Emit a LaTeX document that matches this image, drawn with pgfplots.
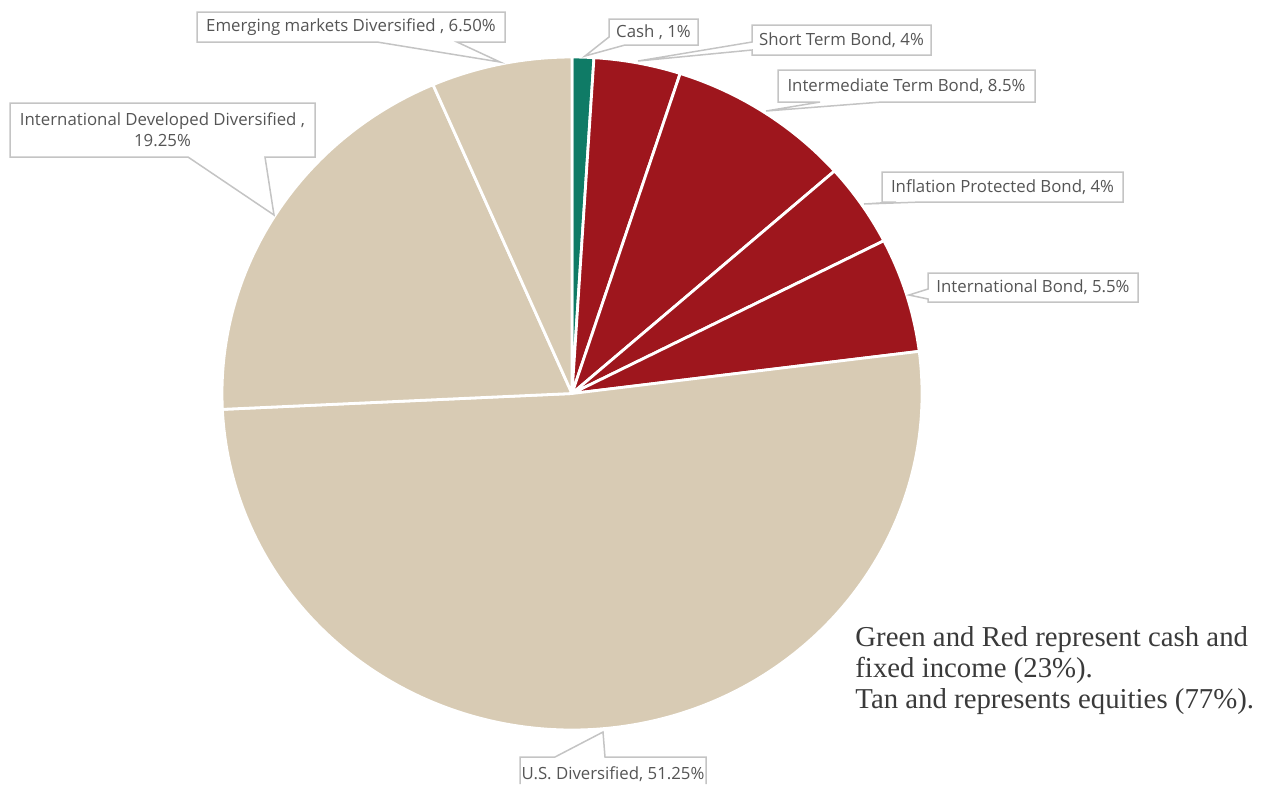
\documentclass[border=0pt]{standalone}
\usepackage{fontspec}
\setmainfont{Liberation Serif}
\newfontfamily\labelfont{Open Sans}
\usepackage{pgfplots}
\usepackage{pgfplotstable}
\pgfplotsset{compat=1.18}
\definecolor{cashgreen}{HTML}{0F7B66}
\definecolor{bondred}{HTML}{9E161D}
\definecolor{eqtan}{HTML}{D8CBB4}
\definecolor{lblgray}{HTML}{555555}
\definecolor{boxgray}{HTML}{C4C4C4}
\definecolor{notegray}{HTML}{3A3A3A}

\pgfplotstableread{
value col
1 cashgreen
4 bondred
8.5 bondred
4 bondred
5.5 bondred
51.25 eqtan
19.25 eqtan
6.5 eqtan
}\piedata

\begin{document}
\begin{tikzpicture}
\path[use as bounding box] (0,0) rectangle (635.5pt,392pt);
\begin{axis}[
  at={(0,0)}, anchor=south west,
  scale only axis, width=635.5pt, height=392pt,
  xmin=0, xmax=1271, ymin=0, ymax=784, y dir=reverse,
  hide axis, clip=false,
]
\def\cum{0}
\pgfplotstablegetrowsof{\piedata}
\pgfmathtruncatemacro\lastrow{\pgfplotsretval-1}
\pgfplotsforeachungrouped \i in {0,...,\lastrow}{%
  \pgfplotstablegetelem{\i}{value}\of\piedata \let\v=\pgfplotsretval
  \pgfplotstablegetelem{\i}{col}\of\piedata \let\c=\pgfplotsretval
  \pgfmathsetmacro\a{90-3.6*\cum}%
  \pgfmathsetmacro\b{90-3.6*(\cum+\v)}%
  \pgfmathsetmacro\cum{\cum+\v}%
  \edef\tmp{\noexpand\filldraw[fill=\c, draw=white, line width=1.4pt, line join=round]
    (axis cs:572,393.5) -- ++(\a:175pt and 168.25pt)
    arc[start angle=\a, end angle=\b, x radius=175pt, y radius=168.25pt] -- cycle;}%
  \tmp
}

\tikzset{callout/.style={draw=boxgray, fill=white, line width=0.75pt, line join=miter}}
\tikzset{lbl/.style={font=\labelfont\fontsize{8.4pt}{10.5pt}\selectfont, text=lblgray, inner sep=0pt, align=center}}

% Emerging markets
\path[callout] (axis cs:197,12) -- (axis cs:505,12) -- (axis cs:505,42) -- (axis cs:457,42) -- (axis cs:500,62) -- (axis cs:377,42) -- (axis cs:197,42) -- cycle;
\node[lbl] at (axis cs:351,27) {Emerging markets Diversified , 6.50\%};
% Cash
\path[callout] (axis cs:609,19) -- (axis cs:698,19) -- (axis cs:698,45) -- (axis cs:625,45) -- (axis cs:585,56) -- (axis cs:609,37) -- cycle;
\node[lbl] at (axis cs:653.5,32) {Cash , 1\%};
% Short Term Bond
\path[callout] (axis cs:752,25) -- (axis cs:931,25) -- (axis cs:931,55) -- (axis cs:752,55) -- (axis cs:752,50) -- (axis cs:638,61) -- (axis cs:752,42) -- cycle;
\node[lbl] at (axis cs:841.5,40) {Short Term Bond, 4\%};
% Intermediate Term Bond
\path[callout] (axis cs:778,70) -- (axis cs:1035,70) -- (axis cs:1035,102) -- (axis cs:882,102) -- (axis cs:766,111) -- (axis cs:820,102) -- (axis cs:778,102) -- cycle;
\node[lbl] at (axis cs:906.5,86) {Intermediate Term Bond, 8.5\%};
% Inflation Protected Bond
\path[callout] (axis cs:882,172) -- (axis cs:1123,172) -- (axis cs:1123,202) -- (axis cs:922,202) -- (axis cs:864,204) -- (axis cs:896,202) -- (axis cs:882,202) -- cycle;
\node[lbl] at (axis cs:1002.5,187) {Inflation Protected Bond, 4\%};
% International Bond
\path[callout] (axis cs:928,273) -- (axis cs:1138,273) -- (axis cs:1138,302) -- (axis cs:928,302) -- (axis cs:928,299) -- (axis cs:909,295) -- (axis cs:928,289) -- cycle;
\node[lbl] at (axis cs:1033,287.5) {International Bond, 5.5\%};
% U.S. Diversified
\path[fill=white] (axis cs:520,784) -- (axis cs:520,757) -- (axis cs:555,757) -- (axis cs:603,732) -- (axis cs:605,757) -- (axis cs:706,757) -- (axis cs:706,784) -- cycle;
\draw[draw=boxgray, line width=0.75pt] (axis cs:520,784) -- (axis cs:520,757) -- (axis cs:555,757) -- (axis cs:603,732) -- (axis cs:605,757) -- (axis cs:706,757) -- (axis cs:706,784);
\node[lbl] at (axis cs:613,774) {U.S. Diversified, 51.25\%};
% International Developed
\path[callout] (axis cs:10,103) -- (axis cs:315,103) -- (axis cs:315,157) -- (axis cs:265,157) -- (axis cs:274,215) -- (axis cs:188,157) -- (axis cs:10,157) -- cycle;
\node[lbl] at (axis cs:162.5,130) {International Developed Diversified ,\\19.25\%};

% note
\tikzset{note/.style={font=\fontsize{14.4pt}{15.5pt}\selectfont, text=notegray, inner sep=0pt, anchor=base west}}
\node[note] at (axis cs:855,646) {Green and Red represent cash and};
\node[note] at (axis cs:855,677) {fixed income (23\%).};
\node[note] at (axis cs:855,708) {Tan and represents equities (77\%).};
\end{axis}
\end{tikzpicture}
\end{document}
